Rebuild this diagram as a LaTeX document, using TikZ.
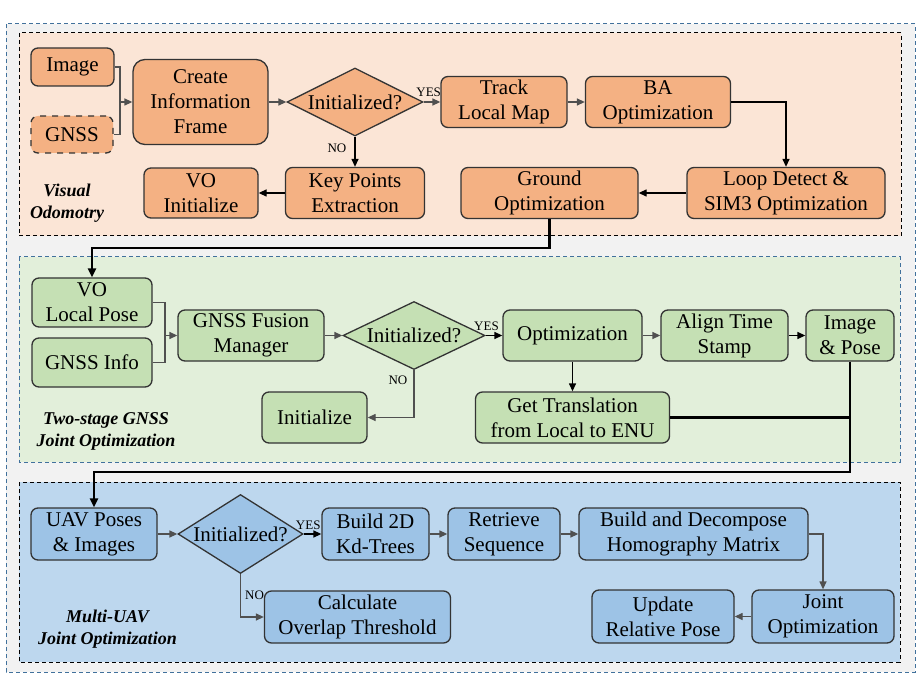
\documentclass[tikz,border=0pt]{standalone}
\usepackage{fontspec}
\setmainfont{Liberation Serif}
\usepackage{xcolor}
\usetikzlibrary{arrows.meta, positioning, shapes.geometric}

\definecolor{outerfill}{HTML}{F2F2F2}
\definecolor{outerline}{HTML}{41719C}
\definecolor{vofill}{HTML}{FBE5D6}
\definecolor{vobox}{HTML}{F4B183}
\definecolor{gnssfill}{HTML}{E2EFDA}
\definecolor{gnssbox}{HTML}{C5E0B4}
\definecolor{uavfill}{HTML}{BDD7EE}
\definecolor{uavbox}{HTML}{9DC3E6}
\definecolor{boxline}{HTML}{333333}
\definecolor{linegray}{HTML}{505050}

\begin{document}
\begin{tikzpicture}[x=0.5pt, y=-0.5pt,
  dims/.style 2 args={minimum width=#1*0.5pt, minimum height=#2*0.5pt},
  box/.style={draw=boxline, line width=0.65pt, rounded corners=3.5pt, align=center,
    inner sep=1pt, font=\fontsize{10.5}{12.5}\selectfont},
  decision/.style={diamond, draw=boxline, line width=0.65pt, inner sep=0pt,
    font=\fontsize{10.5}{12.5}\selectfont},
  flow/.style={draw=linegray, line width=0.65pt, -{Triangle[length=4pt, width=3.5pt]}},
  joinline/.style={draw=linegray, line width=0.65pt},
  link/.style={draw=black, line width=1.2pt, -{Triangle[length=4.5pt, width=4pt]}},
  tag/.style={font=\fontsize{6.5}{7}\selectfont, inner sep=1pt},
  stage/.style={font=\fontsize{9}{11}\selectfont\bfseries\itshape, align=center},
  frame/.style={dash pattern=on 2pt off 1.5pt, line width=0.5pt}]

  \useasboundingbox (0,0) rectangle (921,679);

  % frames
  \draw[frame, draw=outerline, fill=outerfill] (6,24) rectangle (915,672);
  \draw[frame, draw=black, fill=vofill] (19,33) rectangle (901,236);
  \draw[frame, draw=outerline, fill=gnssfill] (19,257) rectangle (900,462);
  \draw[frame, draw=black, fill=uavfill] (19,482) rectangle (900,662);

  % visual odometry
  \node[box, fill=vobox, dims={83}{38}] (image) at (72.5,67) {Image};
  \node[box, fill=vobox, dims={82}{37}, dashed] (gnss) at (72,134.5) {GNSS};
  \node[box, fill=vobox, dims={135}{85}, rounded corners=6pt] (create) at (200.5,102) {Create\\Information\\Frame};
  \node[decision, fill=vobox, aspect=2, dims={136}{68}] (init1) at (355,102) {Initialized?};
  \node[box, fill=vobox, dims={126}{51}] (track) at (504,102) {Track\\Local Map};
  \node[box, fill=vobox, dims={145}{51}] (ba) at (658,102) {BA\\Optimization};
  \node[box, fill=vobox, dims={198}{51}] (loop) at (786,193) {Loop Detect \&\\SIM3 Optimization};
  \node[box, fill=vobox, dims={177}{51}] (ground) at (549.5,193) {Ground\\Optimization};
  \node[box, fill=vobox, dims={139}{51}] (keypts) at (355,193) {Key Points\\Extraction};
  \node[box, fill=vobox, dims={114}{50}] (voinit) at (201,193) {VO\\Initialize};
  \node[stage] at (67,203) {Visual\\Odomotry};

  \coordinate (vojoin) at (120,102);
  \draw[joinline] (image.east) -| (vojoin);
  \draw[joinline] (gnss.east) -| (vojoin);
  \draw[flow] (vojoin) -- (create.west);
  \draw[flow] (create.east) -- (init1.west);
  \draw[flow] (init1.east) -- node[tag, above=1.5pt, pos=0.3]{YES} (track.west);
  \draw[flow] (track.east) -- (ba.west);
  \draw[flow, draw=black] (ba.east) -| (loop.north);
  \draw[flow, draw=black] (loop.west) -- (ground.east);
  \draw[flow, draw=black] (init1.south) -- node[tag, left=3pt, pos=0.37]{NO} (keypts.north);
  \draw[flow, draw=black] (keypts.west) -- (voinit.east);

  % two-stage gnss
  \node[box, fill=gnssbox, dims={120}{49}] (vopose) at (92,302.5) {VO\\Local Pose};
  \node[box, fill=gnssbox, dims={120}{49}] (gnssinfo) at (92,362.5) {GNSS Info};
  \node[box, fill=gnssbox, dims={146}{51}] (fusion) at (251,335.5) {GNSS Fusion\\Manager};
  \node[decision, fill=gnssbox, aspect=2.1, dims={142}{68}] (init2) at (414,335.5) {Initialized?};
  \node[box, fill=gnssbox, dims={139}{51}] (optim) at (572.5,335.5) {Optimization};
  \node[box, fill=gnssbox, dims={127}{51}] (align) at (724.5,335.5) {Align Time\\Stamp};
  \node[box, fill=gnssbox, dims={88}{51}] (imgpose) at (850,335.5) {Image\\\& Pose};
  \node[box, fill=gnssbox, dims={194}{51}] (trans) at (572.5,417.5) {Get Translation\\from Local to ENU};
  \node[box, fill=gnssbox, dims={105}{51}] (gnssinit) at (314.5,417.5) {Initialize};
  \node[stage] at (106,431) {Two-stage GNSS\\Joint Optimization};

  \coordinate (vodown) at (92,248);
  \draw[link] (ground.south) |- (vodown) -- (vopose.north);
  \coordinate (gnssjoin) at (165,335.5);
  \draw[joinline] (vopose.east) -| (gnssjoin);
  \draw[joinline] (gnssinfo.east) -| (gnssjoin);
  \draw[flow] (gnssjoin) -- (fusion.west);
  \draw[flow] (fusion.east) -- (init2.west);
  \draw[flow, draw=black] (init2.east) -- node[tag, above=1pt, pos=0.05]{YES} (optim.west);
  \draw[flow] (optim.east) -- (align.west);
  \draw[flow, draw=black] (align.east) -- (imgpose.west);
  \draw[flow, draw=black] (optim.south) -- (trans.north);
  \coordinate (init2turn) at (init2.south |- gnssinit.east);
  \draw[flow] (init2.south) -- node[tag, left=2pt, pos=0.22]{NO} (init2turn) -- (gnssinit.east);

  % multi-uav
  \node[box, fill=uavbox, dims={126}{52}] (uavpose) at (94,534) {UAV Poses\\\& Images};
  \node[decision, fill=uavbox, aspect=1.58, dims={125}{79}] (init3) at (240.5,534) {Initialized?};
  \node[box, fill=uavbox, dims={107}{52}] (kdtree) at (375.5,534) {Build 2D\\Kd-Trees};
  \node[box, fill=uavbox, dims={112}{52}] (retrieve) at (504,534) {Retrieve\\Sequence};
  \node[box, fill=uavbox, dims={229}{52}] (homog) at (693.5,534) {Build and Decompose\\Homography Matrix};
  \node[box, fill=uavbox, dims={142}{53}] (joint) at (823,616.5) {Joint\\Optimization};
  \node[box, fill=uavbox, dims={142}{53}] (update) at (663,616.5) {Update\\Relative Pose};
  \node[box, fill=uavbox, dims={186}{52}] (overlap) at (357.5,617) {Calculate\\Overlap Threshold};
  \node[stage] at (107.5,629) {Multi-UAV\\Joint Optimization};

  \coordinate (uavdown) at (94,472);
  \draw[line width=1.2pt] (trans.east) -- (trans.east -| imgpose.south);
  \draw[link] (imgpose.south) |- (uavdown) -- (uavpose.north);
  \draw[flow] (uavpose.east) -- (init3.west);
  \draw[flow, draw=black] (init3.east) -- node[tag, above=1pt, pos=0.26]{YES} (kdtree.west);
  \draw[flow] (kdtree.east) -- (retrieve.west);
  \draw[flow] (retrieve.east) -- (homog.west);
  \draw[flow] (homog.east) -| (joint.north);
  \draw[flow] (joint.west) -- (update.east);
  \coordinate (init3turn) at (init3.south |- overlap.west);
  \draw[flow] (init3.south) -- node[tag, right=1pt, pos=0.5]{NO} (init3turn) -- (overlap.west);
\end{tikzpicture}
\end{document}
